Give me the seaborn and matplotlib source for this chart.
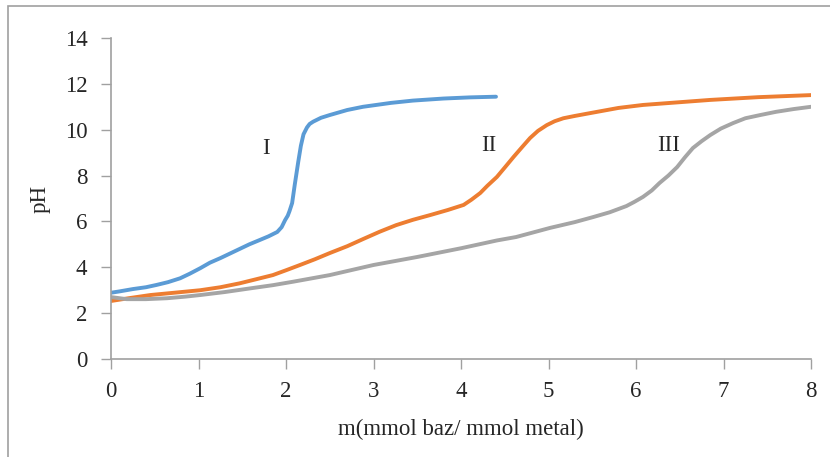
import pandas as pd
import seaborn as sns
import matplotlib.pyplot as plt
from matplotlib.patches import Rectangle

# titration curves
x_I = [0, 0.1, 0.25, 0.4, 0.52, 0.65, 0.79, 0.9, 1.02, 1.13, 1.25, 1.36, 1.47, 1.58, 1.70, 1.8, 1.9, 1.95, 1.99, 2.02, 2.04, 2.07, 2.1, 2.14, 2.17, 2.2, 2.24, 2.27, 2.31, 2.4, 2.5, 2.7, 2.88, 3.2, 3.45, 3.8, 4.1, 4.4]
ph_I = [2.89, 2.95, 3.05, 3.13, 3.23, 3.35, 3.52, 3.72, 3.96, 4.2, 4.4, 4.6, 4.8, 5.0, 5.19, 5.35, 5.54, 5.75, 6.06, 6.25, 6.45, 6.8, 7.6, 8.6, 9.3, 9.8, 10.1, 10.25, 10.35, 10.52, 10.64, 10.86, 11.0, 11.17, 11.27, 11.36, 11.41, 11.44]

x_II = [0, 0.2, 0.45, 0.75, 1.02, 1.25, 1.47, 1.65, 1.85, 2.0, 2.16, 2.33, 2.5, 2.7, 2.88, 3.07, 3.26, 3.45, 3.65, 3.85, 4.03, 4.12, 4.22, 4.3, 4.41, 4.5, 4.6, 4.7, 4.79, 4.88, 4.98, 5.07, 5.17, 5.3, 5.47, 5.8, 6.08, 6.5, 6.85, 7.4, 8.0]
ph_II = [2.53, 2.65, 2.79, 2.9, 3.0, 3.13, 3.3, 3.47, 3.66, 3.87, 4.1, 4.35, 4.62, 4.92, 5.23, 5.55, 5.84, 6.07, 6.28, 6.5, 6.72, 6.95, 7.24, 7.55, 7.94, 8.35, 8.81, 9.25, 9.64, 9.95, 10.2, 10.37, 10.5, 10.6, 10.72, 10.95, 11.08, 11.2, 11.3, 11.42, 11.51]

x_III = [0, 0.18, 0.4, 0.64, 0.85, 1.02, 1.3, 1.59, 1.85, 2.08, 2.5, 3.0, 3.5, 4.0, 4.41, 4.63, 5.02, 5.3, 5.51, 5.7, 5.89, 5.98, 6.08, 6.18, 6.27, 6.37, 6.47, 6.56, 6.65, 6.75, 6.85, 6.97, 7.11, 7.25, 7.42, 7.6, 7.8, 8.0]
ph_III = [2.7, 2.61, 2.61, 2.65, 2.72, 2.79, 2.92, 3.08, 3.22, 3.37, 3.66, 4.1, 4.45, 4.83, 5.17, 5.32, 5.72, 5.97, 6.19, 6.4, 6.67, 6.85, 7.07, 7.35, 7.68, 8.0, 8.37, 8.8, 9.2, 9.5, 9.77, 10.05, 10.29, 10.5, 10.64, 10.78, 10.9, 11.0]

labels = ['I', 'II', 'III']
label_x = [1.77, 4.32, 6.37]
label_y = [9.2, 9.3, 9.33]

colors = ['#5B9BD5', '#ED7D31', '#A5A5A5']

sns.set_style('white')
plt.rcParams['font.family'] = ['Liberation Serif', 'DejaVu Serif']

fig = plt.figure(figsize=(8.3, 4.57), dpi=100)
ax = fig.add_axes([111 / 830, 1 - 359 / 457, 700 / 830, 321 / 457])

curves = [(x_I, ph_I), (x_II, ph_II), (x_III, ph_III)]
for (xs, ys), c in zip(curves, colors):
    df = pd.DataFrame({'m': xs, 'pH': ys})
    sns.lineplot(data=df, x='m', y='pH', color=c, lw=2.8, sort=False, ax=ax,
                 solid_capstyle='round', solid_joinstyle='round')

for t, lx, ly in zip(labels, label_x, label_y):
    ax.text(lx, ly, t, fontsize=16.5, ha='center', va='center')

ax.set_xlim(0, 8)
ax.set_ylim(0, 14)
ax.set_xticks(range(0, 9))
ax.set_yticks(range(0, 15, 2))
ax.tick_params(axis='both', direction='out', length=7, width=1, color='#A0A0A0',
               labelsize=16.5, left=True, bottom=True)
ax.tick_params(axis='y', pad=10)
ax.tick_params(axis='x', pad=9)
for s in ['top', 'right']:
    ax.spines[s].set_visible(False)
for s in ['left', 'bottom']:
    ax.spines[s].set_color('#A0A0A0')
    ax.spines[s].set_linewidth(1.2)
ax.set_xlabel('m(mmol baz/ mmol metal)', fontsize=16.5, labelpad=12)
ax.set_ylabel('pH', fontsize=16.5, labelpad=10)

# outer chart frame
fig.patches.append(Rectangle((8 / 830, -0.1), 1.2, 1 - 6 / 457 + 0.1, transform=fig.transFigure,
                             fill=False, edgecolor='#A0A0A0', lw=1.2))

fig.savefig('out.png', dpi=100)
